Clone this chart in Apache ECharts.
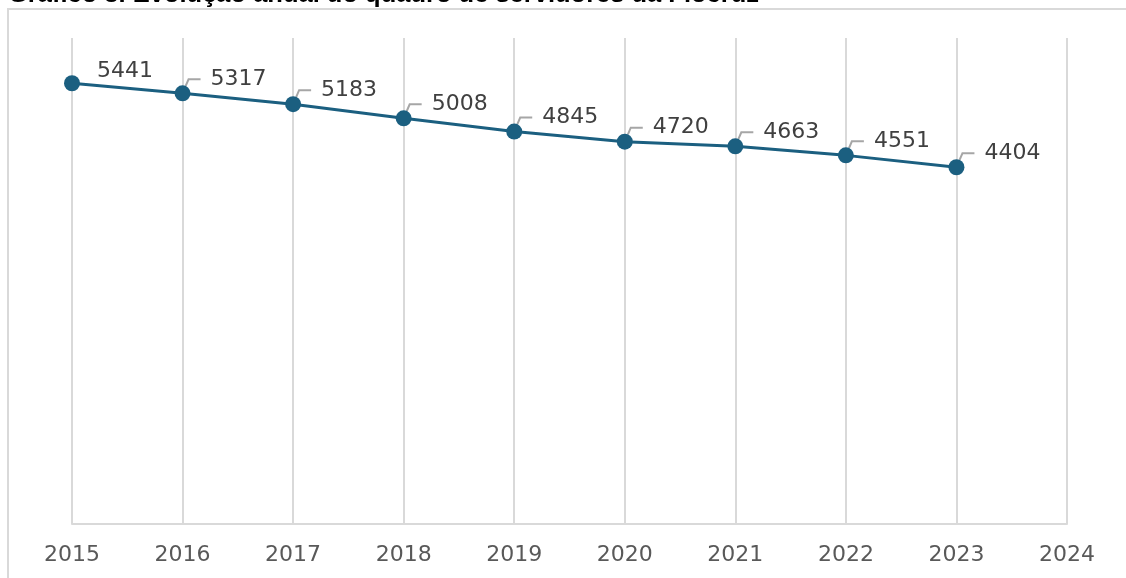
<!DOCTYPE html>
<html>
<head>
<meta charset="utf-8">
<script src="https://cdn.jsdelivr.net/npm/echarts@6/dist/echarts.min.js"></script>
<style>
html,body{margin:0;padding:0;background:#fff;}
#chart{width:1126px;height:578px;}
</style>
</head>
<body>
<div id="chart"></div>
<script>
const titleText = 'Gráfico 3. Evolução anual do quadro de servidores da Fiocruz';
const categories = ['2015','2016','2017','2018','2019','2020','2021','2022','2023','2024'];
const servidores = [5441, 5317, 5183, 5008, 4845, 4720, 4663, 4551, 4404];

const chart = echarts.init(document.getElementById('chart'));
const seriesData = servidores.map((v, i) => {
  if (i === 0) {
    return { value: v, labelLine: { show: false } };
  }
  return v;
});

chart.setOption({
  animation: false,
  backgroundColor: '#ffffff',
  graphic: [
    { type: 'rect', shape: { x: 8, y: 9, width: 1140, height: 600 },
      style: { fill: 'none', stroke: '#d9d9d9', lineWidth: 2 }, z: -1 },
    { type: 'text', x: 8, y: -18,
      style: { text: titleText, font: 'bold 25.5px "Liberation Sans", Arial, sans-serif', fill: '#000' } }
  ],
  grid: { left: 72, right: 59, top: 38, bottom: 54 },
  xAxis: {
    type: 'category',
    data: categories,
    boundaryGap: false,
    axisTick: { show: false },
    axisLine: { lineStyle: { color: '#d9d9d9', width: 2 } },
    splitLine: { show: true, lineStyle: { color: '#d9d9d9', width: 2 } },
    axisLabel: { color: '#595959', fontSize: 22, margin: 20, fontFamily: '"DejaVu Sans", sans-serif' }
  },
  yAxis: {
    type: 'value', min: 0, max: 6000, show: false, splitLine: { show: false }
  },
  series: [{
    type: 'line',
    data: seriesData,
    symbol: 'circle',
    symbolSize: 16,
    itemStyle: { color: '#1b5f80' },
    lineStyle: { color: '#1b5f80', width: 3 },
    label: {
      show: true,
      position: 'right',
      color: '#404040',
      fontSize: 22,
      fontFamily: '"DejaVu Sans", sans-serif',
      formatter: function (p) { return '{g| }' + p.value; },
      rich: { g: { width: 10, fontSize: 22 } }
    },
    labelLayout: function (params) {
      if (params.dataIndex === 0) return { dx: 2, dy: -12 };
      return { dx: 5, dy: -14 };
    },
    labelLine: {
      show: true,
      length2: 12,
      lineStyle: { color: '#a6a6a6', width: 2 }
    }
  }]
});
</script>
</body>
</html>
